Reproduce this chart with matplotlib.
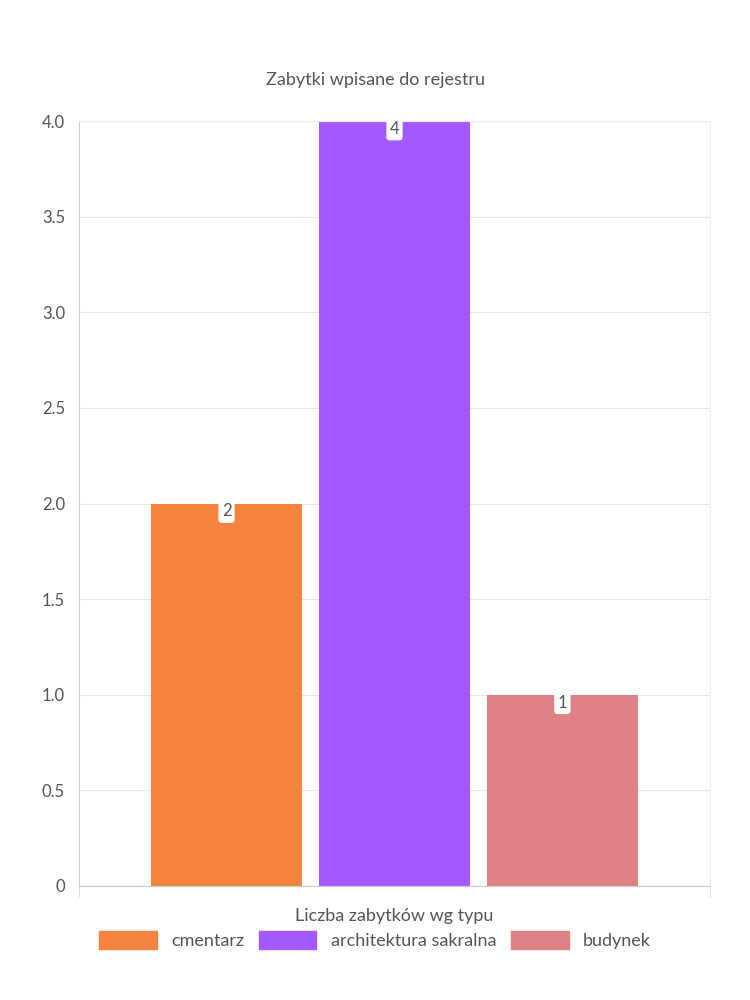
import matplotlib.pyplot as plt
from matplotlib.patches import Patch

categories = ['cmentarz', 'architektura sakralna', 'budynek']
values = [2, 4, 1]
colors = ['#F4833F', '#A259FF', '#E08285']
yticks = [0, 0.5, 1.0, 1.5, 2.0, 2.5, 3.0, 3.5, 4.0]
ytick_labels = ['0', '0.5', '1.0', '1.5', '2.0', '2.5', '3.0', '3.5', '4.0']

plt.rcParams['font.family'] = ['Lato', 'DejaVu Sans']
text_col = '#555555'

fig = plt.figure(figsize=(7.5, 10), dpi=100)
ax = fig.add_axes([79/750, 1 - 886/1000, 631/750, 765/1000])

positions = [0.2338, 0.5, 0.766]
width = 0.239
ax.bar(positions, values, width=width, color=colors, zorder=2)

for x, v in zip(positions, values):
    ax.text(x, v - 0.0, str(v), ha='center', va='top', fontsize=12, color=text_col,
            bbox=dict(boxstyle='round,pad=0.2', fc='white', ec='none'), zorder=3)

ax.set_xlim(0, 1)
ax.set_ylim(0, 4)
ax.set_yticks(yticks)
ax.set_yticklabels(ytick_labels, fontsize=12, color=text_col)
ax.set_xticks([0, 1])
ax.set_xticklabels(['', ''])
ax.tick_params(axis='x', length=8, color='#dddddd')
ax.tick_params(axis='y', length=0, pad=10)
ax.grid(axis='y', color='#e6e6e6', linewidth=0.8, zorder=0)
for s in ['top', 'right']:
    ax.spines[s].set_color('#eeeeee')
for s in ['left', 'bottom']:
    ax.spines[s].set_color('#cccccc')

ax.set_xlabel('Liczba zabytków wg typu', fontsize=13, color=text_col, labelpad=4)
fig.text(0.5, 1 - 80/1000, 'Zabytki wpisane do rejestru', ha='center', va='center',
         fontsize=13, color=text_col)

handles = [Patch(color=c, label=l) for c, l in zip(colors, categories)]
fig.legend(handles=handles, loc='center', bbox_to_anchor=(0.5, 1 - 940/1000), ncol=3,
           frameon=False, fontsize=13, labelcolor=text_col, handlelength=3.2,
           handleheight=1.2, columnspacing=0.8)

fig.savefig('out.png', dpi=100)
